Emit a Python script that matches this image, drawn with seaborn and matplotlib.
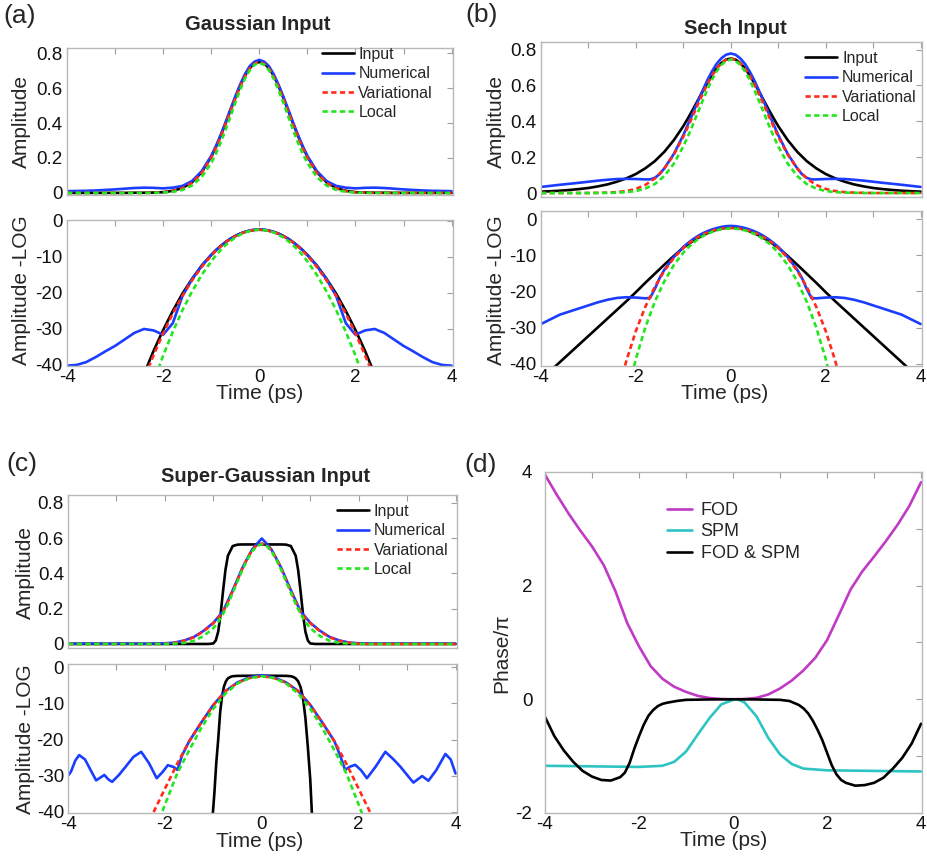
import numpy as np
import seaborn as sns
import matplotlib
matplotlib.use("Agg")
import matplotlib.pyplot as plt
from matplotlib.ticker import FixedLocator, MultipleLocator

# ---- sample positions (ps): 0.2 ps in the wings, 0.1 ps over the peak ----
t_ab = [-4.0, -3.8, -3.6, -3.4, -3.2, -3.0, -2.8, -2.6, -2.4, -2.2, -2.0, -1.8, -1.6, -1.4, -1.2,
        -1.0, -0.9, -0.8, -0.7, -0.6, -0.5, -0.4, -0.3, -0.2, -0.1, 0.0, 0.1, 0.2, 0.3, 0.4, 0.5, 0.6, 0.7, 0.8, 0.9, 1.0,
        1.2, 1.4, 1.6, 1.8, 2.0, 2.2, 2.4, 2.6, 2.8, 3.0, 3.2, 3.4, 3.6, 3.8, 4.0]
t_grid_c = [-4.0, -3.75, -3.5, -3.25, -3.0, -2.75, -2.5, -2.25, -2.0, -1.75, -1.5, -1.25, -1.0, -0.75, -0.5, -0.25, 0.0,
            0.25, 0.5, 0.75, 1.0, 1.25, 1.5, 1.75, 2.0, 2.25, 2.5, 2.75, 3.0, 3.25, 3.5, 3.75, 4.0]

# ---- (a) Gaussian input ----
a_in_lin = [0, 0, 0, 0, 0, 0, 0, 0.001, 0.001, 0.002, 0.004, 0.012, 0.028, 0.061, 0.118,
            0.208, 0.265, 0.330, 0.400, 0.473, 0.545, 0.613, 0.671, 0.716, 0.741, 0.750, 0.741, 0.716, 0.671, 0.613, 0.545, 0.473, 0.400, 0.330, 0.265, 0.208,
            0.118, 0.061, 0.028, 0.012, 0.004, 0.002, 0.001, 0.001, 0, 0, 0, 0, 0, 0, 0]
a_num_lin = [0.010, 0.011, 0.012, 0.014, 0.017, 0.020, 0.024, 0.028, 0.030, 0.029, 0.026, 0.030, 0.040, 0.068, 0.124,
             0.212, 0.270, 0.335, 0.406, 0.480, 0.552, 0.620, 0.680, 0.726, 0.752, 0.762, 0.752, 0.726, 0.680, 0.620, 0.552, 0.480, 0.406, 0.335, 0.270, 0.212,
             0.124, 0.068, 0.040, 0.030, 0.026, 0.029, 0.030, 0.028, 0.024, 0.020, 0.017, 0.014, 0.012, 0.011, 0.010]
a_var_lin = [0, 0, 0, 0, 0, 0, 0, 0, 0, 0.001, 0.004, 0.011, 0.026, 0.057, 0.113,
             0.201, 0.258, 0.323, 0.394, 0.467, 0.540, 0.608, 0.666, 0.712, 0.740, 0.750, 0.740, 0.712, 0.666, 0.608, 0.540, 0.467, 0.394, 0.323, 0.258, 0.201,
             0.113, 0.057, 0.026, 0.011, 0.004, 0.001, 0, 0, 0, 0, 0, 0, 0, 0, 0]
a_loc_lin = [0, 0, 0, 0, 0, 0, 0, 0, 0, 0, 0.002, 0.006, 0.017, 0.042, 0.090,
             0.171, 0.226, 0.291, 0.362, 0.439, 0.516, 0.589, 0.653, 0.702, 0.734, 0.745, 0.734, 0.702, 0.653, 0.589, 0.516, 0.439, 0.362, 0.291, 0.226, 0.171,
             0.090, 0.042, 0.017, 0.006, 0.002, 0, 0, 0, 0, 0, 0, 0, 0, 0, 0]
a_in_log = [-60, -60, -60, -60, -60, -60, -57, -49.6, -42.7, -36.2, -30.4, -25.1, -20.3, -16.2, -12.5,
            -9.5, -8.15, -7.0, -5.92, -5.0, -4.24, -3.6, -3.13, -2.8, -2.57, -2.5, -2.57, -2.8, -3.13, -3.6, -4.24, -5.0, -5.92, -7.0, -8.15, -9.5,
            -12.5, -16.2, -20.3, -25.1, -30.4, -36.2, -42.7, -49.6, -57, -60, -60, -60, -60, -60, -60]
a_num_log = [-40.3, -40.1, -39.3, -37.9, -36.3, -34.8, -33.0, -31.2, -30.1, -30.5, -31.7, -28.5, -21.0, -16.3, -12.6,
             -9.5, -8.2, -7.0, -5.95, -5.0, -4.25, -3.6, -3.1, -2.7, -2.48, -2.4, -2.48, -2.7, -3.1, -3.6, -4.25, -5.0, -5.95, -7.0, -8.2, -9.5,
             -12.6, -16.3, -21.0, -28.5, -31.7, -30.5, -30.1, -31.2, -33.0, -34.8, -36.3, -37.9, -39.3, -40.1, -40.3]
a_var_log = [-60, -60, -60, -60, -60, -60, -60, -51.2, -44.0, -37.4, -31.3, -25.8, -20.9, -16.6, -12.9,
             -9.7, -8.33, -7.1, -6.03, -5.1, -4.3, -3.65, -3.15, -2.8, -2.57, -2.5, -2.57, -2.8, -3.15, -3.65, -4.3, -5.1, -6.03, -7.1, -8.33, -9.7,
             -12.9, -16.6, -20.9, -25.8, -31.3, -37.4, -44.0, -51.2, -60, -60, -60, -60, -60, -60, -60]
a_loc_log = [-60, -60, -60, -60, -60, -60, -60, -60, -53.0, -44.9, -37.5, -30.9, -24.9, -19.7, -15.1,
             -11.3, -9.6, -8.1, -6.79, -5.65, -4.69, -3.9, -3.29, -2.85, -2.59, -2.5, -2.59, -2.85, -3.29, -3.9, -4.69, -5.65, -6.79, -8.1, -9.6, -11.3,
             -15.1, -19.7, -24.9, -30.9, -37.5, -44.9, -53.0, -60, -60, -60, -60, -60, -60, -60, -60]

# ---- (b) Sech input ----
t_b_num = [-4.0, -3.6, -3.2, -2.8, -2.6, -2.4, -2.2, -2.0, -1.8, -1.7, -1.6, -1.5, -1.4, -1.2,
           -1.0, -0.9, -0.8, -0.7, -0.6, -0.5, -0.4, -0.3, -0.2, -0.1, 0.0, 0.1, 0.2, 0.3, 0.4, 0.5, 0.6, 0.7, 0.8, 0.9, 1.0,
           1.2, 1.4, 1.5, 1.6, 1.7, 1.8, 2.0, 2.2, 2.4, 2.6, 2.8, 3.2, 3.6, 4.0]
b_in_lin = [0.008, 0.010, 0.013, 0.017, 0.022, 0.028, 0.037, 0.048, 0.063, 0.082, 0.106, 0.138, 0.178, 0.230, 0.295,
            0.373, 0.418, 0.465, 0.514, 0.563, 0.612, 0.656, 0.695, 0.725, 0.744, 0.750, 0.744, 0.725, 0.695, 0.656, 0.612, 0.563, 0.514, 0.465, 0.418, 0.373,
            0.295, 0.230, 0.178, 0.138, 0.106, 0.082, 0.063, 0.048, 0.037, 0.028, 0.022, 0.017, 0.013, 0.010, 0.008]
b_num_lin = [0.034, 0.046, 0.057, 0.069, 0.074, 0.078, 0.079, 0.078, 0.076, 0.076, 0.085, 0.105, 0.138, 0.218,
             0.323, 0.384, 0.444, 0.508, 0.567, 0.626, 0.677, 0.720, 0.751, 0.771, 0.778, 0.771, 0.751, 0.720, 0.677, 0.626, 0.567, 0.508, 0.444, 0.384, 0.323,
             0.218, 0.138, 0.105, 0.085, 0.076, 0.076, 0.078, 0.079, 0.078, 0.074, 0.069, 0.057, 0.046, 0.034]
b_var_lin = [0, 0, 0, 0, 0, 0, 0.001, 0.002, 0.005, 0.011, 0.023, 0.045, 0.081, 0.137, 0.214,
             0.314, 0.371, 0.430, 0.490, 0.548, 0.604, 0.653, 0.694, 0.724, 0.743, 0.750, 0.743, 0.724, 0.694, 0.653, 0.604, 0.548, 0.490, 0.430, 0.371, 0.314,
             0.214, 0.137, 0.081, 0.045, 0.023, 0.011, 0.005, 0.002, 0.001, 0, 0, 0, 0, 0, 0]
b_loc_lin = [0, 0, 0, 0, 0, 0, 0, 0.001, 0.002, 0.005, 0.011, 0.025, 0.050, 0.095, 0.164,
             0.260, 0.318, 0.380, 0.445, 0.510, 0.573, 0.630, 0.678, 0.714, 0.737, 0.745, 0.737, 0.714, 0.678, 0.630, 0.573, 0.510, 0.445, 0.380, 0.318, 0.260,
             0.164, 0.095, 0.050, 0.025, 0.011, 0.005, 0.002, 0.001, 0, 0, 0, 0, 0, 0, 0]
b_in_log = [-44.3, -41.9, -39.5, -37.1, -34.7, -32.3, -29.9, -27.5, -25.1, -22.7, -20.2, -17.6, -15.1, -12.6, -10.2,
            -7.9, -7.0, -6.1, -5.3, -4.6, -3.95, -3.4, -2.95, -2.6, -2.38, -2.3, -2.38, -2.6, -2.95, -3.4, -3.95, -4.6, -5.3, -6.1, -7.0, -7.9,
            -10.2, -12.6, -15.1, -17.6, -20.2, -22.7, -25.1, -27.5, -29.9, -32.3, -34.7, -37.1, -39.5, -41.9, -44.3]
b_num_log = [-29.0, -26.4, -24.7, -23.0, -22.3, -21.8, -21.6, -21.7, -21.9, -21.8, -19.3, -16.3, -14.0, -10.5,
             -7.7, -6.6, -5.6, -4.75, -4.0, -3.4, -2.9, -2.5, -2.2, -1.98, -1.9, -1.98, -2.2, -2.5, -2.9, -3.4, -4.0, -4.75, -5.6, -6.6, -7.7,
             -10.5, -14.0, -16.3, -19.3, -21.8, -21.9, -21.7, -21.6, -21.8, -22.3, -23.0, -24.7, -26.4, -29.0]
b_var_log = [-60, -60, -60, -60, -60, -60, -60, -60, -48.9, -39.1, -30.9, -24.2, -18.7, -14.3, -10.75,
             -8.0, -6.87, -5.9, -5.06, -4.35, -3.77, -3.3, -2.95, -2.7, -2.55, -2.5, -2.55, -2.7, -2.95, -3.3, -3.77, -4.35, -5.06, -5.9, -6.87, -8.0,
             -10.75, -14.3, -18.7, -24.2, -30.9, -39.1, -48.9, -60, -60, -60, -60, -60, -60, -60, -60]
b_loc_log = [-60, -60, -60, -60, -60, -60, -60, -60, -60, -49.3, -38.6, -29.9, -22.8, -17.2, -12.7,
             -9.3, -7.91, -6.7, -5.69, -4.8, -4.13, -3.6, -3.14, -2.85, -2.66, -2.6, -2.66, -2.85, -3.14, -3.6, -4.13, -4.8, -5.69, -6.7, -7.91, -9.3,
             -12.7, -17.2, -22.8, -29.9, -38.6, -49.3, -60, -60, -60, -60, -60, -60, -60, -60, -60]

# ---- (c) Super-Gaussian input ----
t_c_in_lin = [-4.0, -1.1, -1.0, -0.95, -0.9, -0.85, -0.8, -0.75, -0.7, -0.6, -0.5, -0.4, 0.0,
              0.4, 0.5, 0.6, 0.7, 0.75, 0.8, 0.85, 0.9, 0.95, 1.0, 1.1, 4.0]
c_in_lin = [0, 0, 0.003, 0.02, 0.07, 0.17, 0.30, 0.42, 0.50, 0.555, 0.563, 0.564, 0.564,
            0.564, 0.563, 0.555, 0.50, 0.42, 0.30, 0.17, 0.07, 0.02, 0.003, 0, 0]
t_c_num_lin = [-4.0, -3.6, -3.2, -2.8, -2.4, -2.2, -2.0, -1.8, -1.6, -1.4, -1.2, -1.0, -0.8, -0.6, -0.4, -0.2, -0.1, 0.0,
               0.1, 0.2, 0.4, 0.6, 0.8, 1.0, 1.2, 1.4, 1.6, 1.8, 2.0, 2.2, 2.4, 2.8, 3.2, 3.6, 4.0]
c_num_lin = [0.002, 0.003, 0.002, 0.003, 0.002, 0.003, 0.004, 0.008, 0.020, 0.040, 0.075, 0.120, 0.185, 0.305, 0.432, 0.535, 0.568, 0.598,
             0.568, 0.535, 0.432, 0.305, 0.185, 0.120, 0.075, 0.040, 0.020, 0.008, 0.004, 0.003, 0.002, 0.003, 0.002, 0.003, 0.002]
c_var_lin = [0, 0, 0, 0, 0, 0, 0, 0, 0, 0, 0.002, 0.007, 0.018, 0.038, 0.072,
             0.118, 0.147, 0.182, 0.238, 0.300, 0.365, 0.428, 0.485, 0.531, 0.560, 0.570, 0.560, 0.531, 0.485, 0.428, 0.365, 0.300, 0.238, 0.182, 0.147, 0.118,
             0.072, 0.038, 0.018, 0.007, 0.002, 0, 0, 0, 0, 0, 0, 0, 0, 0, 0]
c_loc_lin = [0, 0, 0, 0, 0, 0, 0, 0, 0, 0, 0, 0.002, 0.006, 0.018, 0.045,
             0.090, 0.125, 0.170, 0.226, 0.290, 0.356, 0.420, 0.477, 0.525, 0.555, 0.565, 0.555, 0.525, 0.477, 0.420, 0.356, 0.290, 0.226, 0.170, 0.125, 0.090,
             0.045, 0.018, 0.006, 0.002, 0, 0, 0, 0, 0, 0, 0, 0, 0, 0, 0]
t_c_in_log = [-1.02, -0.98, -0.94, -0.9, -0.86, -0.82, -0.78, -0.74, -0.7, -0.65, -0.6, -0.5, 0.0,
              0.5, 0.6, 0.65, 0.7, 0.75, 0.8, 0.85, 0.9, 0.95, 1.0, 1.04]
c_in_log = [-42, -35, -26.5, -20, -12.5, -8, -5.3, -3.9, -3.1, -2.7, -2.5, -2.4, -2.35,
            -2.4, -2.5, -2.7, -3.1, -3.9, -5.5, -8.5, -14, -22, -31, -42]
t_c_num_log = [-4.0, -3.94, -3.85, -3.77, -3.65, -3.5, -3.42, -3.33, -3.25, -3.17, -3.09, -2.95, -2.84, -2.65, -2.49, -2.33, -2.17,
               -2.05, -1.94, -1.82, -1.74, -1.65, -1.5, -1.25, -1.0, -0.75, -0.5, -0.25, 0.0, 0.25, 0.5, 0.75, 1.0, 1.25, 1.5,
               1.62, 1.72, 1.82, 1.93, 2.05, 2.17, 2.35, 2.55, 2.72, 2.86, 3.0, 3.13, 3.22, 3.31, 3.44, 3.6, 3.79, 3.9, 4.0]
c_num_log = [-30.0, -28.9, -25.8, -24.3, -25.5, -29.3, -31.3, -30.5, -29.8, -31.0, -31.7, -29.8, -28.0, -24.8, -23.4, -26.5, -30.7,
             -29.0, -27.1, -27.6, -28.4, -24.5, -20.5, -15.3, -10.4, -6.6, -4.2, -2.8, -2.2, -2.8, -4.2, -6.6, -10.4, -15.3, -20.5,
             -24.5, -28.4, -27.5, -27.0, -28.5, -30.7, -27.5, -23.4, -25.5, -27.5, -29.8, -31.9, -31.0, -30.1, -31.4, -28.5, -24.0, -25.5, -29.4]
c_var_log = [-60, -60, -60, -60, -60, -56, -48, -40.5, -33.6, -26.8, -20.5, -15.3, -10.5, -6.6, -4.3, -3.0, -2.5,
             -3.0, -4.3, -6.6, -10.5, -15.3, -20.5, -26.8, -33.6, -40.5, -48, -56, -60, -60, -60, -60, -60]
c_loc_log = [-60, -60, -60, -60, -60, -60, -56, -47, -38.0, -29.5, -23.0, -16.8, -11.5, -7.3, -4.5, -3.0, -2.5,
             -3.0, -4.5, -7.3, -11.5, -16.8, -23.0, -29.5, -38.0, -47, -56, -60, -60, -60, -60, -60, -60]

# ---- (d) phase ----
t_fod = [-4.0, -3.75, -3.5, -3.25, -3.0, -2.75, -2.5, -2.25, -2.0, -1.75, -1.5, -1.25, -1.0, -0.75, -0.5, -0.25, 0.0,
         0.25, 0.5, 0.75, 1.0, 1.25, 1.5, 1.75, 2.0, 2.25, 2.5, 2.75, 3.0, 3.25, 3.5, 3.75, 4.0]
fod = [3.95, 3.6, 3.27, 2.97, 2.69, 2.36, 1.90, 1.34, 0.93, 0.58, 0.36, 0.22, 0.13, 0.06, 0.022, 0.005, 0.0,
       0.005, 0.025, 0.085, 0.19, 0.33, 0.51, 0.73, 1.04, 1.48, 1.93, 2.25, 2.51, 2.78, 3.07, 3.40, 3.82]
t_spm = [-4.0, -3.0, -2.0, -1.5, -1.25, -1.0, -0.75, -0.5, -0.25, 0.0, 0.1, 0.25, 0.5, 0.75, 1.0, 1.25, 1.5, 2.0, 3.0, 4.0]
spm = [-1.17, -1.18, -1.19, -1.17, -1.10, -0.92, -0.62, -0.33, -0.09, -0.01, 0.0, -0.06, -0.30, -0.68, -0.97, -1.14, -1.22, -1.25, -1.26, -1.27]
t_both = [-4.0, -3.8, -3.6, -3.4, -3.2, -3.0, -2.8, -2.6, -2.4, -2.3, -2.2, -2.1, -2.0, -1.9, -1.8, -1.7, -1.6, -1.5, -1.4, -1.2, -1.0, -0.5, 0.0,
          0.5, 1.0, 1.2, 1.4, 1.5, 1.6, 1.7, 1.8, 1.9, 2.0, 2.1, 2.2, 2.3, 2.4, 2.6, 2.8, 3.0, 3.2, 3.4, 3.6, 3.8, 4.0]
both = [-0.31, -0.65, -0.90, -1.10, -1.26, -1.36, -1.42, -1.43, -1.37, -1.29, -1.12, -0.87, -0.65, -0.45, -0.29, -0.19, -0.12, -0.08, -0.06, -0.03, -0.01, -0.003, 0.0,
        -0.003, -0.01, -0.03, -0.10, -0.16, -0.25, -0.38, -0.54, -0.72, -0.94, -1.16, -1.32, -1.42, -1.47, -1.52, -1.51, -1.47, -1.38, -1.22, -1.03, -0.78, -0.43]

legend_labels = ["Input", "Numerical", "Variational", "Local"]
phase_labels = ["FOD", "SPM", "FOD & SPM"]

BLACK, BLUE, RED, GREEN = "#000000", "#1a3dff", "#ff2a1a", "#22e61e"
MAGENTA, CYAN = "#c03ac6", "#2ec4c4"
DASH = (0, (2.0, 1.3))

sns.set_theme(style="white")
plt.rcParams["font.family"] = ["Liberation Sans", "DejaVu Sans"]
plt.rcParams["axes.unicode_minus"] = False


def style_axes(ax, ypad=3):
    for sp in ax.spines.values():
        sp.set_color("#b8b8b8")
        sp.set_linewidth(1.0)
    ax.tick_params(which="both", direction="in", length=4, width=0.8, color="#a0a0a0",
                   top=True, right=True, labelsize=13.5, pad=2, labelcolor="#111111")
    ax.tick_params(axis="y", pad=ypad)
    ax.set_xlim(-4, 4.03)
    ax.xaxis.set_major_locator(FixedLocator([-4, -2, 0, 2, 4]))
    ax.xaxis.set_minor_locator(MultipleLocator(1))
    ax.set_xlabel("")
    ax.set_ylabel("")


def line(ax, t, y, color, dashed=False, label=None):
    sns.lineplot(x=t, y=y, ax=ax, color=color, linewidth=1.9,
                 linestyle=DASH if dashed else "-", label=label,
                 estimator=None, sort=False, legend=False)


def amp_pair(ax_lin, ax_log, lin, log, lin_ylim, log_ylim, anchor):
    for ax, curves in ((ax_lin, lin), (ax_log, log)):
        for i, ((t, y), col) in enumerate(zip(curves, [BLACK, BLUE, RED, GREEN])):
            line(ax, t, y, col, dashed=i >= 2,
                 label=legend_labels[i] if ax is ax_lin else None)
        style_axes(ax)
    ax_lin.set_ylim(*lin_ylim)
    ax_lin.yaxis.set_major_locator(FixedLocator([0, 0.2, 0.4, 0.6, 0.8]))
    ax_lin.set_yticklabels(["0", "0.2", "0.4", "0.6", "0.8"])
    ax_lin.tick_params(labelbottom=False)
    ax_log.set_ylim(*log_ylim)
    ax_log.yaxis.set_major_locator(FixedLocator([-40, -30, -20, -10, 0]))
    ax_lin.legend(loc="upper right", bbox_to_anchor=anchor, frameon=False,
                  fontsize=11.5, handlelength=2.0, handletextpad=0.3,
                  labelspacing=0.27, borderpad=0, borderaxespad=0)


fig = plt.figure(figsize=(9.27, 8.59), dpi=100)

ax_a1 = fig.add_axes([0.0723, 0.7730, 0.4164, 0.1711])
ax_a2 = fig.add_axes([0.0723, 0.5739, 0.4164, 0.1700])
ax_b1 = fig.add_axes([0.5836, 0.7707, 0.4110, 0.1804])
ax_b2 = fig.add_axes([0.5836, 0.5739, 0.4110, 0.1804])
ax_c1 = fig.add_axes([0.0734, 0.2456, 0.4196, 0.1781])
ax_c2 = fig.add_axes([0.0734, 0.0536, 0.4196, 0.1735])
ax_d = fig.add_axes([0.5879, 0.0536, 0.4067, 0.3970])

amp_pair(ax_a1, ax_a2,
         [(t_ab, a_in_lin), (t_ab, a_num_lin), (t_ab, a_var_lin), (t_ab, a_loc_lin)],
         [(t_ab, a_in_log), (t_ab, a_num_log), (t_ab, a_var_log), (t_ab, a_loc_log)],
         (-0.012, 0.83), (-40.4, 0.2), (0.948, 1.007))
amp_pair(ax_b1, ax_b2,
         [(t_ab, b_in_lin), (t_b_num, b_num_lin), (t_ab, b_var_lin), (t_ab, b_loc_lin)],
         [(t_ab, b_in_log), (t_b_num, b_num_log), (t_ab, b_var_log), (t_ab, b_loc_log)],
         (-0.022, 0.842), (-40.6, 2.2), (0.986, 0.942))
amp_pair(ax_c1, ax_c2,
         [(t_c_in_lin, c_in_lin), (t_c_num_lin, c_num_lin), (t_ab, c_var_lin), (t_ab, c_loc_lin)],
         [(t_c_in_log, c_in_log), (t_c_num_log, c_num_log), (t_grid_c, c_var_log), (t_grid_c, c_loc_log)],
         (-0.023, 0.844), (-40.3, 0.9), (0.977, 0.941))

# (d) phase panel
line(ax_d, t_fod, fod, MAGENTA, label=phase_labels[0])
line(ax_d, t_spm, spm, CYAN, label=phase_labels[1])
line(ax_d, t_both, both, BLACK, label=phase_labels[2])
style_axes(ax_d, ypad=9)
ax_d.set_xlim(-4, 4.02)
ax_d.set_ylim(-2, 4)
ax_d.yaxis.set_major_locator(FixedLocator([-2, 0, 2, 4]))
ax_d.yaxis.set_minor_locator(MultipleLocator(1))
ax_d.legend(loc="upper left", bbox_to_anchor=(0.324, 0.912), frameon=False,
            fontsize=13, handlelength=1.4, handletextpad=0.45,
            labelspacing=0.25, borderpad=0, borderaxespad=0)

# titles, axis labels and panel letters
for x, y, s in [(0.278, 0.972, "Gaussian Input"), (0.793, 0.967, "Sech Input"),
                (0.286, 0.445, "Super-Gaussian Input")]:
    fig.text(x, y, s, ha="center", va="center", fontsize=14.5, fontweight="bold")
for x, y, s in [(0.0216, 0.981, "(a)"), (0.519, 0.9825, "(b)"),
                (0.0237, 0.460, "(c)"), (0.518, 0.4587, "(d)")]:
    fig.text(x, y, s, ha="center", va="center", fontsize=19)
for x, y in [(0.2805, 0.5415), (0.782, 0.5415), (0.2805, 0.0205), (0.7805, 0.0215)]:
    fig.text(x, y, "Time (ps)", ha="center", va="center", fontsize=15)
for x, y, s in [(0.0234, 0.858, "Amplitude"), (0.0234, 0.6624, "Amplitude -LOG"),
                (0.5358, 0.858, "Amplitude"), (0.5358, 0.6624, "Amplitude -LOG"),
                (0.0270, 0.334, "Amplitude"), (0.0270, 0.140, "Amplitude -LOG"),
                (0.5412, 0.2398, "Phase/\u03c0")]:
    fig.text(x, y, s, ha="center", va="center", rotation=90, fontsize=15)

fig.savefig("out.png", dpi=100)
